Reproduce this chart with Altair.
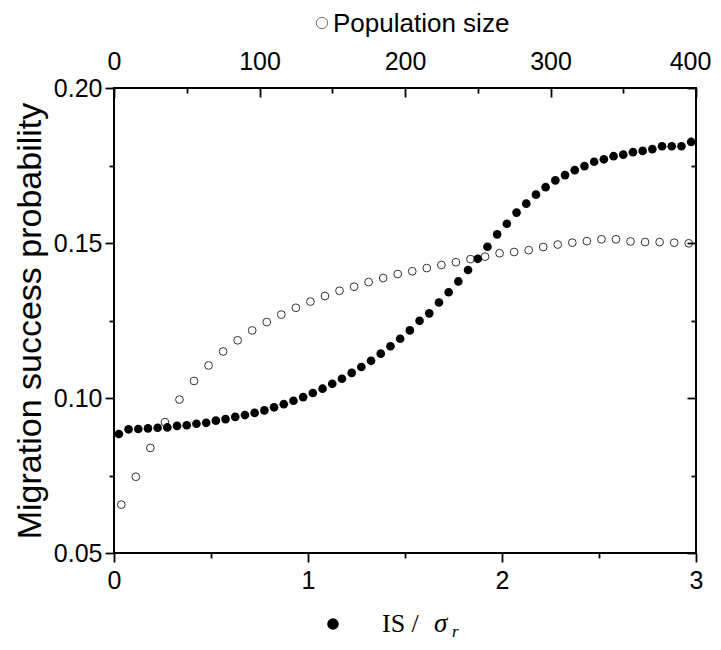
import altair as alt
import pandas as pd

# ---- data ----
is_values = [0.025, 0.075, 0.125, 0.175, 0.225, 0.275, 0.325, 0.375, 0.425, 0.475,
             0.525, 0.575, 0.625, 0.675, 0.725, 0.775, 0.825, 0.875, 0.925, 0.975,
             1.025, 1.075, 1.125, 1.175, 1.225, 1.275, 1.325, 1.375, 1.425, 1.475,
             1.525, 1.575, 1.625, 1.675, 1.725, 1.775, 1.825, 1.875, 1.925, 1.975,
             2.025, 2.075, 2.125, 2.175, 2.225, 2.275, 2.325, 2.375, 2.425, 2.475,
             2.525, 2.575, 2.625, 2.675, 2.725, 2.775, 2.825, 2.875, 2.925, 2.975]
success_is = [0.0884, 0.0899, 0.0900, 0.0902, 0.0904, 0.0905, 0.0910, 0.0912, 0.0917, 0.0920,
              0.0927, 0.0932, 0.0939, 0.0945, 0.0952, 0.0960, 0.0970, 0.0980, 0.0991, 0.1003,
              0.1016, 0.1030, 0.1046, 0.1062, 0.1081, 0.1100, 0.1120, 0.1143, 0.1167, 0.1191,
              0.1218, 0.1249, 0.1273, 0.1308, 0.1341, 0.1376, 0.1413, 0.1449, 0.1488, 0.1528,
              0.1562, 0.1598, 0.1627, 0.1656, 0.1680, 0.1702, 0.1719, 0.1735, 0.1748, 0.1762,
              0.1770, 0.1780, 0.1785, 0.1793, 0.1797, 0.1803, 0.1812, 0.1812, 0.1812, 0.1826]

pop_values = [5, 15, 25, 35, 45, 55, 65, 75, 85, 95,
              105, 115, 125, 135, 145, 155, 165, 175, 185, 195,
              205, 215, 225, 235, 245, 255, 265, 275, 285, 295,
              305, 315, 325, 335, 345, 355, 365, 375, 385, 395]
success_pop = [0.0656, 0.0746, 0.0839, 0.0922, 0.0995, 0.1055, 0.1105, 0.1150, 0.1186, 0.1218,
               0.1245, 0.1269, 0.1291, 0.1311, 0.1329, 0.1346, 0.1359, 0.1374, 0.1387, 0.1400,
               0.1409, 0.1419, 0.1429, 0.1438, 0.1448, 0.1456, 0.1467, 0.1471, 0.1477, 0.1487,
               0.1495, 0.1501, 0.1506, 0.1512, 0.1512, 0.1505, 0.1503, 0.1503, 0.1501, 0.1499]

is_major = [0, 1, 2, 3]
is_minor = [0.5, 1.5, 2.5]
pop_major = [0, 100, 200, 300, 400]
pop_minor = [50, 150, 250, 350]
y_major = [0.05, 0.10, 0.15, 0.20]
y_minor = [0.075, 0.125, 0.175]

W, H = 582, 465
SANS = "Liberation Sans"
SERIF = "Liberation Serif"
LFS = 25

df_is = pd.DataFrame({"is": is_values, "p": success_is})
df_pop = pd.DataFrame({"pop": pop_values, "p": success_pop})
one = pd.DataFrame({"k": [0]})

xs_is = alt.Scale(domain=[0, 3], nice=False, zero=False)
xs_pop = alt.Scale(domain=[0, 400], nice=False, zero=False)
ys = alt.Scale(domain=[0.05, 0.20], nice=False, zero=False)

common = dict(domain=False, grid=False, tickColor="black", tickWidth=1.8,
              labelFont=SANS, labelFontSize=LFS, labelColor="black", labelFlush=False)

open_pts = alt.Chart(df_pop).mark_point(shape="circle", filled=False, size=60,
                                        stroke="#333333", strokeWidth=1, opacity=1).encode(
    x=alt.X("pop:Q", scale=xs_pop,
            axis=alt.Axis(orient="top", values=pop_major, tickSize={"expr": "-9"},
                          labelPadding=23, format="d", title=None,
                          labelOffset={"condition": {"test": "datum.value === 400", "value": -6},
                                       "value": 0},
                          **common)),
    y=alt.Y("p:Q", scale=ys,
            axis=alt.Axis(orient="right", values=y_major, tickSize={"expr": "-9"},
                          labels=False, title=None, **common)),
)

open_minor = alt.Chart(df_pop).mark_point(opacity=0).encode(
    x=alt.X("pop:Q", scale=xs_pop,
            axis=alt.Axis(orient="top", values=pop_minor, tickSize={"expr": "-5"},
                          labels=False, title=None, **common)),
    y=alt.Y("p:Q", scale=ys,
            axis=alt.Axis(orient="right", values=y_minor, tickSize={"expr": "-5"},
                          labels=False, title=None, **common)),
)

filled_pts = alt.Chart(df_is).mark_circle(size=75, color="black", opacity=1).encode(
    x=alt.X("is:Q", scale=xs_is,
            axis=alt.Axis(orient="bottom", values=is_major, tickSize=9, labelPadding=6,
                          format="d", title=None, **common)),
    y=alt.Y("p:Q", scale=ys,
            axis=alt.Axis(orient="left", values=y_major, tickSize=9, labelPadding=3,
                          format=".2f", title="Migration success probability",
                          titleFont=SANS, titleFontSize=34, titleFontWeight="normal",
                          titleColor="black", titleX=-84, titleY=H / 2,
                          titleBaseline="middle", titleAngle=270, **common)),
)

filled_minor = alt.Chart(df_is).mark_circle(opacity=0).encode(
    x=alt.X("is:Q", scale=xs_is,
            axis=alt.Axis(orient="bottom", values=is_minor, tickSize=5,
                          labels=False, title=None, **common)),
    y=alt.Y("p:Q", scale=ys,
            axis=alt.Axis(orient="left", values=y_minor, tickSize=5,
                          labels=False, title=None, **common)),
)

# top title with its open-circle symbol
top_sym = alt.Chart(one).mark_point(shape="circle", filled=False, size=130,
                                    stroke="#333333", strokeWidth=1).encode(
    x=alt.value(208), y=alt.value(-65))
top_txt = alt.Chart(one).mark_text(font=SANS, fontSize=26, align="left",
                                   baseline="alphabetic", color="black").encode(
    x=alt.value(219), y=alt.value(-56), text=alt.value("Population size"))

# bottom title with its filled symbol
bot_sym = alt.Chart(one).mark_circle(size=135, color="black", opacity=1).encode(
    x=alt.value(219), y=alt.value(536))
bot_txt1 = alt.Chart(one).mark_text(font=SERIF, fontSize=26, align="left",
                                    baseline="alphabetic", color="black").encode(
    x=alt.value(268), y=alt.value(544), text=alt.value("IS /"))
bot_txt2 = alt.Chart(one).mark_text(font=SERIF, fontSize=27, fontStyle="italic", align="left",
                                    baseline="alphabetic", color="black").encode(
    x=alt.value(320), y=alt.value(544), text=alt.value("σ"))
bot_txt3 = alt.Chart(one).mark_text(font=SERIF, fontSize=17, fontStyle="italic", align="left",
                                    baseline="alphabetic", color="black").encode(
    x=alt.value(338), y=alt.value(549), text=alt.value("r"))

chart = alt.layer(
    open_pts, open_minor, filled_pts, filled_minor,
    top_sym, top_txt, bot_sym, bot_txt1, bot_txt2, bot_txt3,
).resolve_scale(x="independent", y="independent").resolve_axis(
    x="independent", y="independent"
).properties(
    width=W, height=H,
    autosize=alt.AutoSizeParams(type="none"),
    padding={"left": 106, "top": 80, "right": 17, "bottom": 89},
    background="white",
).configure_view(stroke="black", strokeWidth=2)

chart.save("out.html", embed_options={"renderer": "svg", "actions": False})
